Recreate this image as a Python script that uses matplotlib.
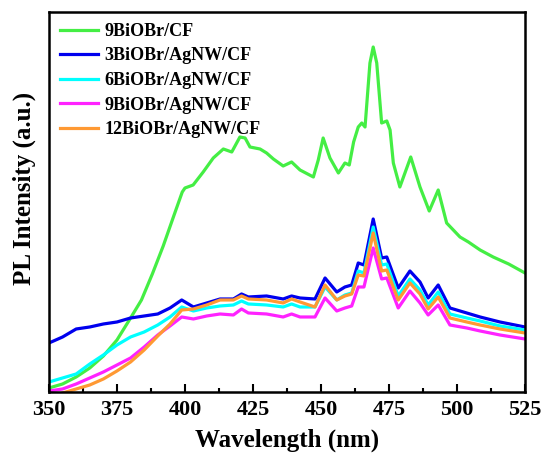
import numpy as np
import matplotlib
matplotlib.use('Agg')
import matplotlib.pyplot as plt

plt.rcParams['font.family'] = ['Liberation Serif', 'DejaVu Serif']
plt.rcParams['font.weight'] = 'bold'

# 9BiOBr/CF (own wavelength grid)
wl_cf = [350, 355, 360, 365, 370, 375, 380, 384, 388, 392, 396, 399, 400, 403,
         406.7, 410.4, 414.1, 417.2, 420.2, 422.1, 423.9, 427.6, 430, 432.5,
         436.1, 439.2, 442.3, 447.2, 449, 450.8, 453.3, 456.4, 458.8, 460.4,
         462, 463.7, 465, 466.2, 468, 469.2, 470.5, 472.3, 474.2, 475.4, 476.6,
         479, 483, 486.4, 489.8, 493.1, 496.2, 501.1, 504.2, 508.5, 513.3, 519, 525]
i_cf = [4, 8, 15, 24, 36, 52, 74, 92, 118, 146, 177, 200, 204, 207,
        220, 234, 243, 240, 255, 254, 245, 243, 239, 233,
        226, 230, 222, 215, 232, 254, 234, 219, 229, 227,
        250, 265, 269, 265, 329, 345, 329, 269, 271, 262, 229,
        205, 235, 205, 181, 202, 169, 155, 150, 142, 135, 128, 119]

# AgNW/CF samples (shared wavelength grid)
wl_ag = [350, 355, 360, 365, 370, 375, 380, 385, 390, 394.5, 398.8, 403.1, 408,
         412.9, 417.8, 420.8, 423.3, 430, 436.1, 439.2, 442.3, 447.8, 451.5,
         455.8, 458.8, 461.3, 463.7, 465.8, 469.2, 472.3, 474.2, 478.4, 482.7,
         486.4, 489.4, 493.1, 497.4, 503.6, 508.5, 515.8, 525]
y_3 = [343, 337, 329, 327, 324, 322, 318, 316, 314, 308, 300, 307, 303,
       299, 299, 294, 297, 296, 299, 296, 298, 299, 278,
       292, 287, 285, 263, 265, 219, 258, 257, 288, 271,
       282, 298, 285, 308, 313, 317, 322, 327]
y_6 = [382, 378, 374, 364, 355, 345, 337, 332, 325, 317, 307, 311, 308,
       306, 305, 301, 304, 305, 307, 304, 307, 307, 287,
       300, 295, 293, 271, 273, 227, 265, 264, 296, 279,
       290, 305, 292, 314, 318, 321, 326, 330]
y_9 = [391, 389, 384, 378, 372, 365, 358, 347, 335, 326, 317, 319, 316,
       314, 315, 309, 313, 314, 317, 314, 317, 317, 298,
       311, 308, 306, 287, 287, 248, 279, 278, 308, 291,
       303, 315, 305, 325, 328, 331, 335, 339]
y_12 = [398, 393, 389, 385, 379, 371, 362, 350, 336, 324, 310, 309, 305,
        300, 300, 296, 299, 300, 303, 299, 302, 307, 285,
        300, 296, 294, 275, 276, 233, 271, 270, 300, 283,
        294, 309, 297, 318, 322, 325, 329, 333]

# convert read-off heights to intensity (a.u.)
i_3 = [392 - v for v in y_3]
i_6 = [392 - v for v in y_6]
i_9 = [392 - v for v in y_9]
i_12 = [392 - v for v in y_12]

labels = ['9BiOBr/CF', '3BiOBr/AgNW/CF', '6BiOBr/AgNW/CF',
          '9BiOBr/AgNW/CF', '12BiOBr/AgNW/CF']
colors = ['#44EE44', '#0000EE', '#00FFFF', '#FF22FF', '#FF9933']

fig = plt.figure(figsize=(5.46, 4.53), dpi=100)
ax = fig.add_axes([0.0897, 0.1347, 0.8718, 0.8388])

ax.plot(wl_cf, i_cf, color=colors[0], lw=2.3, label=labels[0])
for vals, lab, col in zip([i_3, i_6, i_9, i_12], labels[1:], colors[1:]):
    ax.plot(wl_ag, vals, color=col, lw=2.3, label=lab)

ax.set_xlim(350, 525)
ax.set_ylim(0, 380)
ax.set_xticks(np.arange(350, 526, 25))
ax.set_xticks(np.arange(362.5, 525, 25), minor=True)
ax.set_yticks([])
ax.tick_params(axis='x', which='major', direction='in', length=6, width=1.5,
               labelsize=16, pad=6)
ax.tick_params(axis='x', which='minor', direction='in', length=3, width=1.5)
for s in ax.spines.values():
    s.set_linewidth(1.8)

ax.set_xlabel('Wavelength (nm)', fontsize=18, fontweight='bold', labelpad=6)
ax.set_ylabel('PL Intensity (a.u.)', fontsize=18, fontweight='bold')
ax.yaxis.set_label_coords(-0.027, 0.535)

ax.legend(loc='upper left', frameon=False, handlelength=2.1,
          handletextpad=0.35, labelspacing=0.42, borderaxespad=0.2,
          prop={'weight': 'bold', 'size': 13})

fig.savefig('out.png', dpi=100)
